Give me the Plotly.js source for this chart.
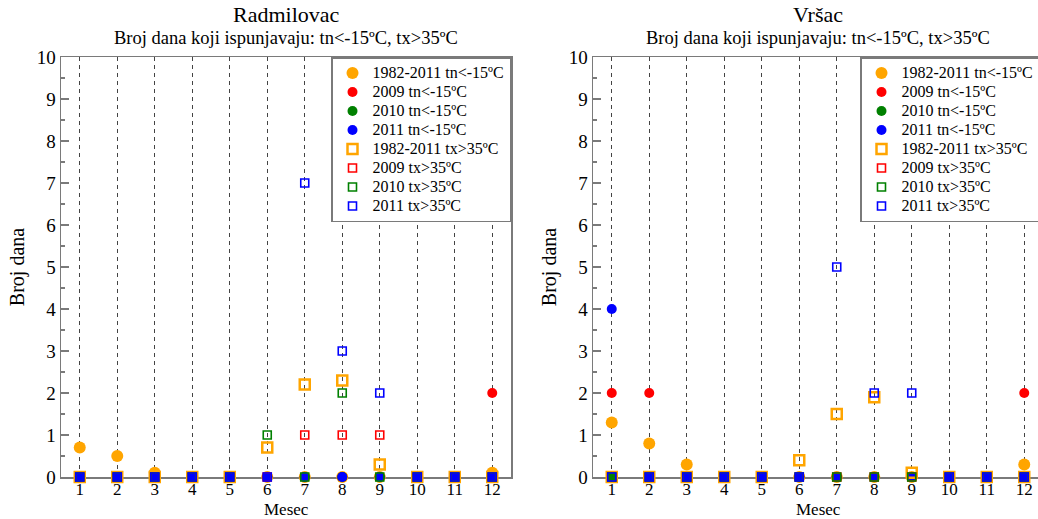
<!DOCTYPE html>
<html>
<head>
<meta charset="utf-8">
<script src="https://cdn.plot.ly/plotly-3.0.1.min.js"></script>
<style>
html, body { margin: 0; padding: 0; background: #ffffff; }
#chart { width: 1038px; height: 519px; }
</style>
</head>
<body>
<div id="chart"></div>
<script>
// ---------------- DATA ----------------
const months = [1, 2, 3, 4, 5, 6, 7, 8, 9, 10, 11, 12];
const monthLabels = ['1', '2', '3', '4', '5', '6', '7', '8', '9', '10', '11', '12'];
const yTickVals = [0, 1, 2, 3, 4, 5, 6, 7, 8, 9, 10];

const stationNames = ['Radmilovac', 'Vršac'];
const subtitleText = 'Broj dana koji ispunjavaju: tn&lt;-15ºC, tx&gt;35ºC';
const xTitleText = 'Mesec';
const yTitleText = 'Broj dana';

const seriesNames = [
  '1982-2011 tn&lt;-15ºC',
  '2009 tn&lt;-15ºC',
  '2010 tn&lt;-15ºC',
  '2011 tn&lt;-15ºC',
  '1982-2011 tx&gt;35ºC',
  '2009 tx&gt;35ºC',
  '2010 tx&gt;35ºC',
  '2011 tx&gt;35ºC'
];

// Radmilovac
const radTn19822011 = [0.7, 0.5, 0.1, 0, 0, 0, 0, 0, 0, 0, 0, 0.1];
const radTn2009     = [0, 0, 0, 0, 0, 0, 0, 0, 0, 0, 0, 2];
const radTn2010     = [0, 0, 0, 0, 0, 0, 0, 0, 0, 0, 0, 0];
const radTn2011     = [0, 0, 0, 0, 0, 0, 0, 0, 0, 0, 0, 0];
const radTx19822011 = [0, 0, 0, 0, 0, 0.7, 2.2, 2.3, 0.3, 0, 0, 0];
const radTx2009     = [0, 0, 0, 0, 0, 0, 1, 1, 1, 0, 0, 0];
const radTx2010     = [0, 0, 0, 0, 0, 1, 0, 2, 0, 0, 0, 0];
const radTx2011     = [0, 0, 0, 0, 0, 0, 7, 3, 2, 0, 0, 0];

// Vršac
const vrsTn19822011 = [1.3, 0.8, 0.3, 0, 0, 0, 0, 0, 0, 0, 0, 0.3];
const vrsTn2009     = [2, 2, 0, 0, 0, 0, 0, 0, 0, 0, 0, 2];
const vrsTn2010     = [0, 0, 0, 0, 0, 0, 0, 0, 0, 0, 0, 0];
const vrsTn2011     = [4, 0, 0, 0, 0, 0, 0, 0, 0, 0, 0, 0];
const vrsTx19822011 = [0, 0, 0, 0, 0, 0.4, 1.5, 1.9, 0.1, 0, 0, 0];
const vrsTx2009     = [0, 0, 0, 0, 0, 0, 0, 0, 0, 0, 0, 0];
const vrsTx2010     = [0, 0, 0, 0, 0, 0, 0, 0, 0, 0, 0, 0];
const vrsTx2011     = [0, 0, 0, 0, 0, 0, 5, 2, 2, 0, 0, 0];

const stationSeries = [
  [radTn19822011, radTn2009, radTn2010, radTn2011, radTx19822011, radTx2009, radTx2010, radTx2011],
  [vrsTn19822011, vrsTn2009, vrsTn2010, vrsTn2011, vrsTx19822011, vrsTx2009, vrsTx2010, vrsTx2011]
];

// ---------------- STYLES ----------------
const seriesStyles = [
  { symbol: 'circle',      color: '#FFA500', size: 12, lw: 0 },
  { symbol: 'circle',      color: '#FF0000', size: 10, lw: 0 },
  { symbol: 'circle',      color: '#008000', size: 10, lw: 0 },
  { symbol: 'circle',      color: '#0000FF', size: 10, lw: 0 },
  { symbol: 'square-open', color: '#FFA500', size: 10, lw: 2.5 },
  { symbol: 'square-open', color: '#FF0000', size: 8,  lw: 1.6 },
  { symbol: 'square-open', color: '#008000', size: 8,  lw: 1.6 },
  { symbol: 'square-open', color: '#0000FF', size: 8,  lw: 1.6 }
];

const FONT = 'Liberation Serif';
const W = 1038, H = 519;
const ML = 61, MR = 0, MT = 57, MB = 42;
const plotW = W - ML - MR;       // 977
const plotH = H - MT - MB;       // 420
const pxPerMonth = 450 / 12;
const leftDomain = [0, 450 / plotW];
const rightStartPx = 532;
const rightDomain = [rightStartPx / plotW, 1];
const rightRangeMax = 0.5 + (plotW - rightStartPx) / pxPerMonth;

const traces = [];
stationSeries.forEach((series, s) => {
  series.forEach((vals, i) => {
    const st = seriesStyles[i];
    traces.push({
      type: 'scatter',
      mode: 'markers',
      x: months,
      y: vals,
      name: '<span style="font-size:16px">' + seriesNames[i] + '</span>',
      xaxis: s === 0 ? 'x' : 'x2',
      yaxis: s === 0 ? 'y' : 'y2',
      legend: s === 0 ? 'legend' : 'legend2',
      cliponaxis: false,
      hoverinfo: 'skip',
      marker: {
        symbol: st.symbol,
        size: st.size,
        color: st.color,
        line: { color: st.color, width: st.lw }
      }
    });
  });
});

function xAxis(domain, range, anchor) {
  return {
    domain: domain,
    range: range,
    anchor: anchor,
    tickmode: 'array',
    tickvals: months,
    ticktext: monthLabels,
    ticks: '',
    ticklabelstandoff: -4,
    showgrid: true,
    gridcolor: '#444444',
    gridwidth: 1,
    griddash: '4px,4px',
    zeroline: false,
    showline: true,
    linecolor: '#7a7a7a',
    linewidth: 1.5,
    mirror: true,
    layer: 'below traces',
    tickfont: { family: FONT, size: 17, color: '#000000' }
  };
}
function yAxis(anchor, mirror) {
  return {
    domain: [0, 1],
    range: [0, 10],
    anchor: anchor,
    tickmode: 'array',
    tickvals: yTickVals,
    ticks: 'inside',
    ticklen: 8,
    tickwidth: 1.5,
    tickcolor: '#7a7a7a',
    minor: { dtick: 0.5, tick0: 0, ticks: 'inside', ticklen: 4, tickwidth: 1.5, tickcolor: '#7a7a7a', showgrid: false },
    showgrid: false,
    zeroline: false,
    showline: true,
    linecolor: '#7a7a7a',
    linewidth: 1.5,
    mirror: mirror,
    layer: 'below traces',
    tickfont: { family: FONT, size: 19, color: '#000000' },
    title: { text: yTitleText, font: { family: FONT, size: 20, color: '#000000' }, standoff: 6 }
  };
}

const legendCommon = {
  y: 1, yanchor: 'top',
  bgcolor: '#ffffff',
  bordercolor: '#7a7a7a',
  borderwidth: 1.5,
  font: { family: FONT, size: 12, color: '#000000' },
  itemwidth: 30,
  tracegroupgap: 0
};

const toPaperY = py => (H - MB - py) / plotH;
const toPaperX = px => (px - ML) / plotW;

const annotations = [];
[286, 818].forEach((cx, s) => {
  annotations.push({
    text: stationNames[s], xref: 'paper', yref: 'paper',
    x: toPaperX(cx), y: toPaperY(15), xanchor: 'center', yanchor: 'middle',
    showarrow: false, borderpad: 0, font: { family: FONT, size: 22, color: '#000000' }
  });
  annotations.push({
    text: subtitleText, xref: 'paper', yref: 'paper',
    x: toPaperX(cx), y: toPaperY(38), xanchor: 'center', yanchor: 'middle',
    showarrow: false, borderpad: 0, font: { family: FONT, size: 18.5, color: '#000000' }
  });
  annotations.push({
    text: xTitleText, xref: 'paper', yref: 'paper',
    x: toPaperX(cx), y: toPaperY(499), xanchor: 'center', yanchor: 'top',
    showarrow: false, borderpad: 0, font: { family: FONT, size: 17, color: '#000000' }
  });
});

const layout = {
  width: W,
  height: H,
  paper_bgcolor: '#ffffff',
  plot_bgcolor: '#ffffff',
  margin: { l: ML, r: MR, t: MT, b: MB, autoexpand: false },
  font: { family: FONT, color: '#000000', size: 19 },
  showlegend: true,
  xaxis: xAxis(leftDomain, [0.5, 12.5], 'y'),
  yaxis: yAxis('x', true),
  xaxis2: xAxis(rightDomain, [0.5, rightRangeMax], 'y2'),
  yaxis2: yAxis('x2', false),
  legend: Object.assign({}, legendCommon, { x: leftDomain[1], xanchor: 'right' }),
  legend2: Object.assign({}, legendCommon, { x: toPaperX(860), xanchor: 'left' }),
  annotations: annotations
};

Plotly.newPlot('chart', traces, layout, { staticPlot: true, displayModeBar: false });
</script>
</body>
</html>
